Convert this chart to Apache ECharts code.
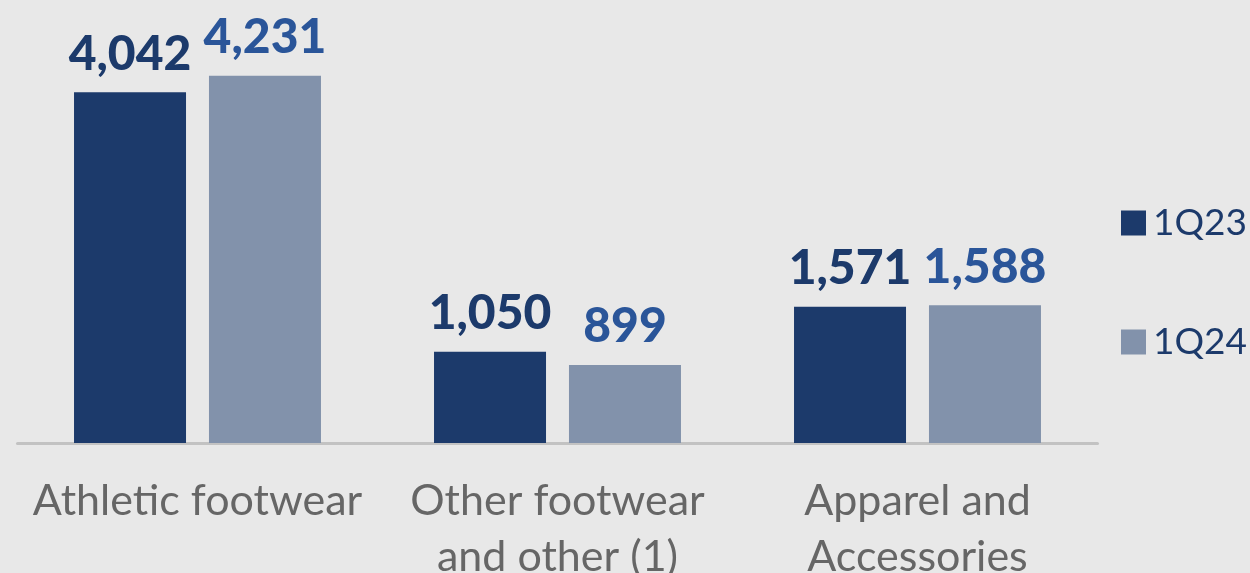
<!DOCTYPE html>
<html><head><meta charset="utf-8">
<script src="https://cdn.jsdelivr.net/npm/echarts@6/dist/echarts.min.js"></script>
<style>html,body{margin:0;padding:0;background:#e8e8e8}#c{width:1250px;height:573px}</style>
</head><body><div id="c"></div>
<script>
const categories = ['Athletic footwear', 'Other footwear\nand other (1)', 'Apparel and\nAccessories'];
const seriesNames = ['1Q23', '1Q24'];
const values1Q23 = [4042, 1050, 1571];
const values1Q24 = [4231, 899, 1588];

const chart = echarts.init(document.getElementById('c'), null, {renderer: 'canvas'});
const fmt = p => p.value.toLocaleString('en-US');
chart.setOption({
  backgroundColor: '#e8e8e8',
  animation: false,
  grid: {left: 17.5, right: 152.5, top: 9, bottom: 130, containLabel: false, outerBoundsMode: 'none'},
  legend: {
    orient: 'vertical', left: 1116, top: 199,
    itemWidth: 25, itemHeight: 25, itemGap: 81,
    icon: 'rect',
    textStyle: {fontFamily: 'Lato', fontSize: 37, color: '#1c3a6b', lineHeight: 38, padding: [0, 0, 0, 2]},
    data: seriesNames
  },
  xAxis: {
    type: 'category', data: categories,
    axisLine: {lineStyle: {color: '#c2c2c2', width: 3}},
    axisTick: {show: false},
    axisLabel: {fontFamily: 'Lato', fontSize: 43, color: '#666666', lineHeight: 56, margin: 30, interval: 0}
  },
  yAxis: {type: 'value', min: 0, max: 5000, show: false, splitLine: {show: false}},
  series: [
    {name: seriesNames[0], type: 'bar', data: values1Q23, barWidth: 112, barGap: '20.5%',
     itemStyle: {color: '#1c3a6b'},
     label: {show: true, position: 'top', distance: 14, formatter: fmt,
       fontFamily: 'Lato', fontWeight: 900, fontSize: 48, color: '#1c3a6b'}},
    {name: seriesNames[1], type: 'bar', data: values1Q24, barWidth: 112,
     itemStyle: {color: '#8292ab'},
     label: {show: true, position: 'top', distance: 14, formatter: fmt,
       fontFamily: 'Lato', fontWeight: 900, fontSize: 48, color: '#2a5599'}}
  ]
});
</script></body></html>
